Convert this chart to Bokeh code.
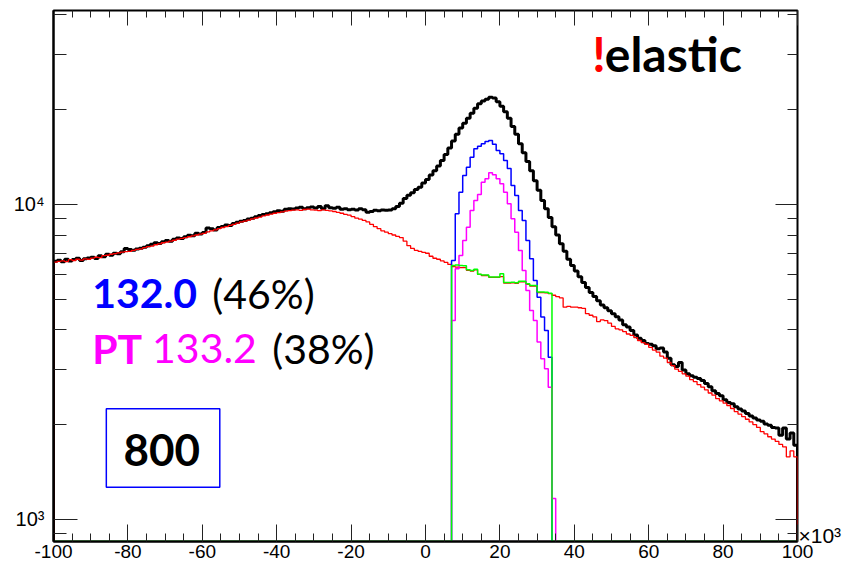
from bokeh.plotting import figure
from bokeh.models import (Range1d, LinearAxis, LogAxis, LogScale, FixedTicker,
                          Label, BoxAnnotation)
from bokeh.embed import file_html
from bokeh.resources import INLINE

# ---- axis ranges (x in units of 10^3) ----
X_MIN, X_MAX = -100, 100
Y_MIN, Y_MAX = 851, 41300
BIN_WIDTH = 1.0

# ---- histogram contents, one value per bin ----
# total (black), bins from -100 to 99
black_counts = [
    6600, 6650, 6580, 6700, 6620, 6690, 6750, 6640, 6720, 6760,
    6800, 6740, 6880, 6820, 6950, 6900, 7000, 6980, 7080, 7250,
    7200, 7150, 7220, 7260, 7320, 7400, 7480, 7560, 7520, 7620,
    7680, 7650, 7760, 7820, 7800, 7900, 7980, 7950, 8100, 8060,
    8150, 8420, 8380, 8300, 8450, 8520, 8600, 8580, 8700, 8780,
    8850, 8900, 9000, 9050, 9150, 9220, 9300, 9350, 9420, 9480,
    9550, 9520, 9650, 9700, 9680, 9750, 9800, 9700, 9760, 9820,
    9740, 9850, 9700, 9900, 9760, 9720, 9800, 9650, 9700, 9620,
    9650, 9600, 9700, 9620, 9450, 9500, 9580, 9550, 9600, 9580,
    9600, 9700, 9850, 10100, 10450, 10700, 10900, 11150, 11350, 11700,
    12000, 12400, 12800, 13250, 13800, 14400, 15100, 15900, 16700, 17500,
    18100, 18800, 19500, 20200, 20900, 21300, 21600, 21900, 21800, 21200,
    20500, 19700, 18800, 17700, 16700, 15600, 14600, 13700, 12800, 11900,
    11100, 10300, 9700, 9100, 8500, 8000, 7500, 7100, 6700, 6400,
    6150, 5900, 5650, 5450, 5250, 5100, 4950, 4800, 4700, 4600,
    4500, 4400, 4300, 4150, 4080, 3980, 3850, 3760, 3700, 3620,
    3600, 3560, 3480, 3500, 3400, 3250, 3100, 3060, 3150, 2980,
    2900, 2860, 2830, 2800, 2760, 2700, 2640, 2560, 2510, 2470,
    2400, 2350, 2330, 2280, 2240, 2210, 2170, 2130, 2100, 2070,
    2050, 2010, 1990, 1960, 1950, 1850, 1950, 1800, 1880, 1720,
]

# background (red), bins from -100 to 99
red_counts = [
    6560, 6600, 6620, 6590, 6680, 6640, 6700, 6660, 6720, 6700,
    6760, 6800, 6780, 6880, 6900, 6950, 6980, 7020, 7060, 7080,
    7100, 7150, 7200, 7230, 7300, 7350, 7380, 7450, 7500, 7560,
    7600, 7650, 7700, 7760, 7800, 7850, 7900, 7950, 8000, 8050,
    8100, 8180, 8250, 8300, 8380, 8450, 8500, 8580, 8650, 8720,
    8800, 8860, 8920, 9000, 9060, 9120, 9200, 9260, 9320, 9380,
    9420, 9480, 9520, 9560, 9600, 9620, 9580, 9640, 9660, 9620,
    9600, 9560, 9620, 9580, 9540, 9500, 9440, 9380, 9300, 9250,
    9150, 9050, 8980, 8900, 8800, 8650, 8500, 8380, 8250, 8170,
    8080, 8000, 7920, 7850, 7650, 7400, 7250, 7150, 7100, 7050,
    7000, 6850, 6750, 6700, 6620, 6550, 6450, 6350, 6330, 6300,
    6300, 6180, 6150, 6200, 6000, 5950, 5950, 5870, 5870, 5870,
    5900, 5630, 5630, 5640, 5620, 5680, 5680, 5580, 5510, 5510,
    5250, 5250, 5240, 5210, 5150, 5100, 5050, 4720, 4750, 4720,
    4720, 4700, 4680, 4500, 4450, 4400, 4250, 4300, 4280, 4200,
    4100, 4030, 4000, 3950, 3880, 3840, 3780, 3700, 3640, 3600,
    3520, 3450, 3400, 3300, 3250, 3150, 3080, 3000, 2950, 2900,
    2850, 2780, 2740, 2680, 2630, 2580, 2520, 2480, 2420, 2380,
    2340, 2300, 2250, 2200, 2160, 2120, 2080, 2040, 2000, 1960,
    1900, 1870, 1830, 1800, 1770, 1730, 1700, 1580, 1650, 1580,
]

# signal (blue), bins from 7 to 33
blue_start = 7
blue_counts = [
    6640, 9340, 10940, 12360, 13140, 14130, 15020, 15310, 15580, 15850,
    15970, 15530, 14840, 14490, 13790, 13000, 11490, 10680, 9570, 8900,
    7690, 6720, 5740, 5080, 4390, 3980, 3275,
]

# PT signal (magenta), bins from 7 to 34
magenta_start = 7
magenta_counts = [
    4280, 6250, 6890, 7690, 8470, 9570, 10300, 10750, 11770, 12070,
    12610, 12430, 12070, 11630, 10940, 10050, 9010, 8170, 7140, 6170,
    5330, 4610, 4280, 3660, 3236, 3010, 2630, 1165,
]

# green component, bins from 7 to 33
green_start = 7
green_counts = [
    6400, 6420, 6400, 6390, 6200, 6170, 6230, 6010, 5970, 5970,
    5890, 5890, 5890, 6030, 5650, 5650, 5660, 5640, 5700, 5700,
    5600, 5530, 5530, 5270, 5270, 5260, 5230,
]

# ---- tick values and labels ----
x_ticks = [-100, -80, -60, -40, -20, 0, 20, 40, 60, 80, 100]
x_tick_labels = ["-100", "-80", "-60", "-40", "-20", "0", "20", "40", "60", "80", "100"]
x_minor_ticks = list(range(-100, 101, 5))
y_ticks = [1000, 10000]
y_tick_labels = ["10\u00b3", "10\u2074"]
y_minor_ticks = [900, 2000, 3000, 4000, 5000, 6000, 7000, 8000, 9000,
                 20000, 30000, 40000]
x_multiplier = "\u00d710\u00b3"


def step_path(start, counts, floor=Y_MIN, full_range=False):
    """Outline of a histogram: a closed staircase dropping to the floor."""
    xs, ys = [], []
    if full_range and start > X_MIN:
        xs += [X_MIN]
        ys += [floor]
    xs.append(start)
    ys.append(floor)
    for i, c in enumerate(counts):
        x0 = start + i * BIN_WIDTH
        xs += [x0, x0 + BIN_WIDTH]
        ys += [c, c]
    end = start + len(counts) * BIN_WIDTH
    xs.append(end)
    ys.append(floor)
    if full_range and end < X_MAX:
        xs.append(X_MAX)
        ys.append(floor)
    return xs, ys


p = figure(width=856, height=569,
           x_range=Range1d(X_MIN, X_MAX), y_range=Range1d(Y_MIN, Y_MAX),
           y_axis_type="log", x_axis_location=None, y_axis_location=None,
           output_backend="svg", toolbar_location=None,
           min_border_left=53, min_border_right=59,
           min_border_top=10, min_border_bottom=28)
p.y_scale = LogScale()
p.background_fill_color = "white"
p.border_fill_color = "white"
p.outline_line_color = "black"
p.outline_line_width = 2
p.grid.visible = False

TICK_FONT = "Liberation Sans"
xt = FixedTicker(ticks=x_ticks, minor_ticks=x_minor_ticks)
yt = FixedTicker(ticks=y_ticks, minor_ticks=y_minor_ticks)

bottom = LinearAxis(ticker=xt,
                    major_label_overrides=dict(zip(x_ticks, x_tick_labels)),
                    major_tick_in=17, major_tick_out=0,
                    minor_tick_in=8, minor_tick_out=0,
                    major_tick_line_color="#222222", minor_tick_line_color="#222222",
                    axis_line_color="black", axis_line_width=2,
                    major_label_standoff=3,
                    major_label_text_font=TICK_FONT,
                    major_label_text_font_size="19px",
                    major_label_text_color="black")
p.add_layout(bottom, "below")

left = LogAxis(ticker=yt,
               major_label_overrides=dict(zip(y_ticks, y_tick_labels)),
               major_tick_in=24, major_tick_out=0,
               minor_tick_in=13, minor_tick_out=0,
               major_tick_line_color="#222222", minor_tick_line_color="#222222",
               axis_line_color="black", axis_line_width=2,
               major_label_standoff=9,
               major_label_text_font=TICK_FONT,
               major_label_text_font_size="20px",
               major_label_text_color="black")
p.add_layout(left, "left")

# mirrored tick marks on the top and right edges (labels hidden)
top = LinearAxis(ticker=xt, major_tick_in=15, major_tick_out=0,
                 minor_tick_in=7, minor_tick_out=0,
                 major_tick_line_color="#222222", minor_tick_line_color="#222222",
                 axis_line_color=None, major_label_standoff=0,
                 major_label_text_font_size="1px",
                 major_label_text_color=None)
p.add_layout(top, "above")

right = LogAxis(ticker=yt, major_tick_in=22, major_tick_out=0,
                minor_tick_in=10, minor_tick_out=0,
                major_tick_line_color="#222222", minor_tick_line_color="#222222",
                axis_line_color=None, major_label_standoff=0,
                major_label_text_font_size="1px",
                major_label_text_color=None)
p.add_layout(right, "right")

# "x10^3" multiplier sitting just right of the x axis end
mult = LogAxis(ticker=FixedTicker(ticks=[889], minor_ticks=[]),
               major_label_overrides={889: x_multiplier},
               major_tick_in=0, major_tick_out=0,
               major_tick_line_color=None, minor_tick_line_color=None,
               axis_line_color=None, major_label_standoff=1,
               major_label_text_font=TICK_FONT,
               major_label_text_font_size="21px",
               major_label_text_color="black")
p.add_layout(mult, "right")

# ---- histograms ----
bx, by = step_path(X_MIN, black_counts)
p.line(bx, by, line_color="black", line_width=3)
rx, ry = step_path(X_MIN, red_counts)
p.line(rx, ry, line_color="#ff0000", line_width=1.3)
ux, uy = step_path(blue_start, blue_counts)
p.line(ux, uy, line_color="#0000ff", line_width=1.5)
mx, my = step_path(magenta_start, magenta_counts)
p.line(mx, my, line_color="#ff00ff", line_width=1.5)
gx, gy = step_path(green_start, green_counts, full_range=True)
p.line(gx, gy, line_color="#00ff00", line_width=1.5)

# ---- annotations ----
TXT_FONT = "Lato"
p.add_layout(Label(x=-89.6, y=5217, text="132.0", text_font=TXT_FONT,
                   text_font_style="bold", text_font_size="41px",
                   text_color="#0000ff", text_baseline="alphabetic"))
p.add_layout(Label(x=-57.3, y=5217, text="(46%)", text_font=TXT_FONT,
                   text_font_size="41px", text_color="black",
                   text_baseline="alphabetic"))
p.add_layout(Label(x=-89.6, y=3490, text="PT", text_font=TXT_FONT,
                   text_font_style="bold", text_font_size="41px",
                   text_color="#ff00ff", text_baseline="alphabetic"))
p.add_layout(Label(x=-73.5, y=3490, text="133.2", text_font=TXT_FONT,
                   text_font_size="41px", text_color="#ff00ff",
                   text_baseline="alphabetic"))
p.add_layout(Label(x=-41.2, y=3490, text="(38%)", text_font=TXT_FONT,
                   text_font_size="41px", text_color="black",
                   text_baseline="alphabetic"))

p.add_layout(BoxAnnotation(left=-85.8, right=-55.3, bottom=1266, top=2246,
                           fill_alpha=0, line_color="#0000ff", line_alpha=1,
                           line_width=1.5))
p.add_layout(Label(x=-70.9, y=1660, text="800", text_font=TXT_FONT,
                   text_font_style="bold", text_font_size="44px",
                   text_color="black", text_align="center",
                   text_baseline="alphabetic"))

p.add_layout(Label(x=44.8, y=30220, text="!", text_font=TXT_FONT,
                   text_font_style="bold", text_font_size="48px",
                   text_color="#ff0000", text_baseline="alphabetic"))
p.add_layout(Label(x=48.2, y=30220, text="elastic", text_font=TXT_FONT,
                   text_font_style="bold", text_font_size="48px",
                   text_color="black", text_baseline="alphabetic"))

open("out.html", "w").write(file_html(p, INLINE))
